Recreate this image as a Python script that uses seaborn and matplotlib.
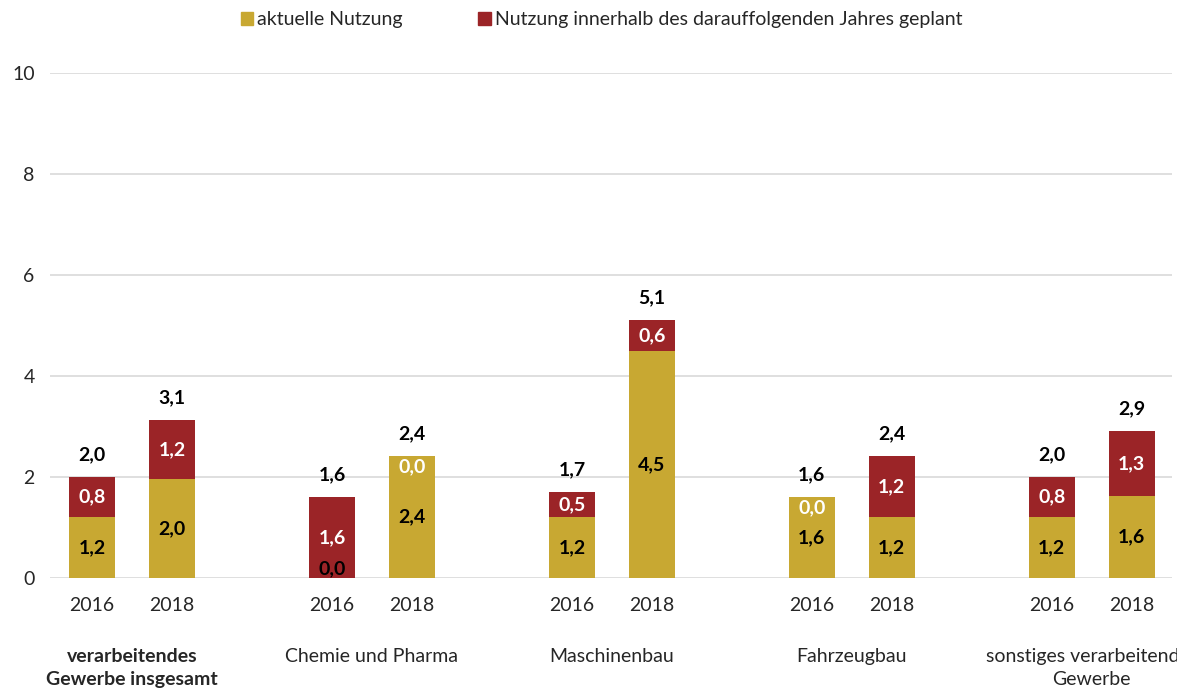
import pandas as pd
import matplotlib
matplotlib.use('Agg')
import matplotlib.pyplot as plt
from matplotlib.patches import Patch
import seaborn as sns

# --- data ---
groups = ['verarbeitendes\nGewerbe insgesamt', 'Chemie und Pharma', 'Maschinenbau',
          'Fahrzeugbau', 'sonstiges verarbeitendes\nGewerbe']
years = ['2016', '2018']
aktuell = [1.2, 1.96, 0.0, 2.42, 1.2, 4.5, 1.6, 1.2, 1.2, 1.62]
geplant = [0.8, 1.17, 1.6, 0.0, 0.5, 0.6, 0.0, 1.22, 0.8, 1.29]

GOLD = '#C8A832'
RED = '#9B2427'
FONT = 'Lato'

rows = []
for i, (a, p) in enumerate(zip(aktuell, geplant)):
    g, j = divmod(i, 2)
    rows.append({'group': groups[g], 'year': years[j], 'pos': 3 * g + j,
                 'aktuell': a, 'geplant': p, 'total': a + p})
df = pd.DataFrame(rows)

sns.set_theme(style='white')
plt.rcParams['font.family'] = [FONT, 'DejaVu Sans']

fig = plt.figure(figsize=(11.77, 6.89), dpi=100)
ax = fig.add_axes([0.0425, 0.1611, 0.953, 0.7329])

# stacked bars: totals in red, current use drawn on top in gold
sns.barplot(data=df, x='pos', y='total', native_scale=True, color=RED,
            saturation=1, width=0.575, ax=ax, linewidth=0)
sns.barplot(data=df, x='pos', y='aktuell', native_scale=True, color=GOLD,
            saturation=1, width=0.575, ax=ax, linewidth=0)

fmt = lambda v: f'{v:.1f}'.replace('.', ',')
fs = 14
for _, r in df.iterrows():
    x = r['pos']
    # current use label (black)
    if r['aktuell'] > 0:
        ax.text(x, r['aktuell'] / 2, fmt(r['aktuell']), ha='center', va='center',
                fontsize=fs, fontweight='bold', color='black')
    else:
        ax.text(x, 0.02, fmt(r['aktuell']), ha='center', va='bottom',
                fontsize=fs, fontweight='bold', color='black')
    # planned label (white)
    if r['geplant'] > 0:
        ax.text(x, r['aktuell'] + r['geplant'] / 2, fmt(r['geplant']), ha='center',
                va='center', fontsize=fs, fontweight='bold', color='white')
    else:
        ax.text(x, r['total'] - 0.04, fmt(r['geplant']), ha='center', va='top',
                fontsize=fs, fontweight='bold', color='white')
    # total above bar
    ax.annotate(fmt(r['total']), (x, r['total']), xytext=(0, 10), textcoords='offset points',
                ha='center', va='bottom', fontsize=fs, fontweight='bold', color='black')

ax.set_ylim(0, 10)
ax.set_yticks([0, 2, 4, 6, 8, 10])
ax.set_xlim(-0.525, 13.5)
ax.set_xticks(df['pos'])
ax.set_xticklabels(df['year'])
ax.tick_params(axis='x', length=0, pad=14, labelsize=fs)
ax.tick_params(axis='y', length=0, pad=11, labelsize=fs)
ax.set_xlabel('')
ax.set_ylabel('')
ax.grid(axis='y', color='#D9D9D9', linewidth=1.2)
ax.set_axisbelow(True)
sns.despine(ax=ax, left=True, bottom=True)

# group names under the year labels (the last one runs off the right edge, as in the original)
for g, name in enumerate(groups):
    ax.text(3 * g + 0.5, -0.139, name, transform=ax.get_xaxis_transform(),
            ha='center', va='top', fontsize=fs, linespacing=1.45,
            fontweight='bold' if g == 0 else 'normal', clip_on=False)

handles = [Patch(color=GOLD, label='aktuelle Nutzung'),
           Patch(color=RED, label='Nutzung innerhalb des darauffolgenden Jahres geplant')]
fig.legend(handles=handles, loc='center', bbox_to_anchor=(0.511, 0.971), ncol=2,
           frameon=False, fontsize=fs, handlelength=0.65, handleheight=0.65,
           handletextpad=0.2, columnspacing=3.9)

plt.savefig('out.png', dpi=100)
